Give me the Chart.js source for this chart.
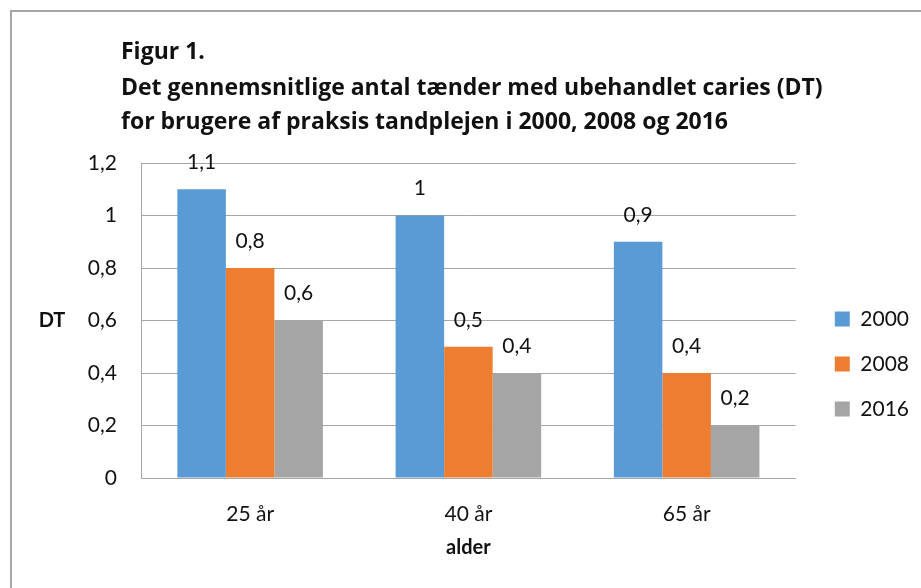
<!DOCTYPE html>
<html>
<head>
<meta charset="utf-8">
<script src="https://cdn.jsdelivr.net/npm/chart.js@4"></script>
<style>
  html, body { margin: 0; padding: 0; background: #fff; overflow: hidden; }
  #wrap { position: relative; width: 921px; height: 588px; }
  #frame { position: absolute; left: 10px; top: 10px; width: 2000px; height: 2000px; border: 2px solid #a6a6a6; box-sizing: border-box; pointer-events: none; }
  canvas { position: absolute; left: 0; top: 0; }
</style>
</head>
<body>
<div id="wrap">
  <canvas id="c" width="921" height="588"></canvas>
  <div id="frame"></div>
</div>
<script>
const figureLabel = "Figur 1.";
const titleLines = [
  "Det gennemsnitlige antal tænder med ubehandlet caries (DT)",
  "for brugere af praksis tandplejen i 2000, 2008 og 2016"
];
const categories = ["25 år", "40 år", "65 år"];
const seriesNames = ["2000", "2008", "2016"];
const values2000 = [1.1, 1.0, 0.9];
const values2008 = [0.8, 0.5, 0.4];
const values2016 = [0.6, 0.4, 0.2];
const yTicks = [0, 0.2, 0.4, 0.6, 0.8, 1, 1.2];
const yAxisTitle = "DT";
const xAxisTitle = "alder";

const colors = ["#5B9BD5", "#ED7D31", "#A5A5A5"];
const FONT = "Lato, 'Open Sans', sans-serif";
const TFONT = "'Open Sans', Lato, sans-serif";
const TXT = "#111111";
const fmt = v => String(Math.round(v * 10) / 10).replace('.', ',');

const titleShift = {
  id: 'titleShift',
  beforeDraw(chart) {
    const x = chart.chartArea.left - 20;
    if (chart.titleBlock) chart.titleBlock.left = x;
    chart.boxes.forEach(b => {
      if (b.options && (b.options.text === figureLabel || b.options.text === titleLines)) b.left = x;
    });
  }
};

const extras = {
  id: 'extras',
  afterDatasetsDraw(chart) {
    const ctx = chart.ctx;
    ctx.save();
    ctx.font = "21px " + FONT;
    ctx.fillStyle = TXT;
    ctx.textAlign = "center";
    ctx.textBaseline = "middle";
    chart.data.datasets.forEach((ds, i) => {
      const meta = chart.getDatasetMeta(i);
      meta.data.forEach((bar, j) => {
        ctx.fillText(fmt(ds.data[j]), bar.x, bar.y - 27);
      });
    });
    ctx.restore();
  },
  afterDraw(chart) {
    const ctx = chart.ctx;
    const a = chart.chartArea;
    ctx.save();
    ctx.font = "bold 20px " + FONT;
    ctx.fillStyle = TXT;
    ctx.textAlign = "center";
    ctx.textBaseline = "middle";
    ctx.fillText(yAxisTitle, a.left - 89, (a.top + a.bottom) / 2);
    ctx.restore();
  }
};

new Chart(document.getElementById('c'), {
  type: 'bar',
  data: {
    labels: categories,
    datasets: [
      { label: seriesNames[0], data: values2000, backgroundColor: colors[0] },
      { label: seriesNames[1], data: values2008, backgroundColor: colors[1] },
      { label: seriesNames[2], data: values2016, backgroundColor: colors[2] }
    ]
  },
  options: {
    responsive: false,
    animation: false,
    devicePixelRatio: 1,
    layout: { padding: { left: 0, right: 2, top: 0, bottom: 0 } },
    datasets: { bar: { categoryPercentage: 0.667, barPercentage: 1.0 } },
    plugins: {
      title: {
        display: true,
        align: 'start',
        text: figureLabel,
        color: TXT,
        font: { family: TFONT, size: 23, weight: 'bold', lineHeight: 1.2 },
        padding: { top: 38.5, bottom: 5 }
      },
      subtitle: {
        display: true,
        align: 'start',
        text: titleLines,
        color: TXT,
        font: { family: TFONT, size: 23, weight: 'bold', lineHeight: 34 / 23 },
        padding: { top: 0, bottom: 24 }
      },
      legend: {
        position: 'right',
        align: 'center',
        title: { display: true, text: ' ', color: 'rgba(0,0,0,0)', font: { size: 1, lineHeight: 1 }, padding: { top: 139, bottom: 0 } },
        labels: {
          boxWidth: 15,
          boxHeight: 15,
          padding: 24,
          color: TXT,
          font: { family: FONT, size: 21 }
        }
      },
      tooltip: { enabled: false }
    },
    scales: {
      x: {
        grid: { display: false, drawTicks: false },
        border: { display: true, color: '#a6a6a6', width: 1 },
        ticks: { color: TXT, font: { family: FONT, size: 21 }, padding: 24 },
        title: { display: true, text: xAxisTitle, color: TXT, font: { family: FONT, size: 20, weight: 'bold' }, padding: { top: 0, bottom: 28 } },
        afterFit(scale) { scale.height = 110; }
      },
      y: {
        min: 0, max: 1.2,
        afterBuildTicks(scale) { scale.ticks = yTicks.map(v => ({ value: v })); },
        grid: { color: '#a6a6a6', drawTicks: false, lineWidth: 1 },
        border: { display: true, color: '#a6a6a6', width: 1 },
        ticks: { color: TXT, font: { family: FONT, size: 21 }, padding: 24, callback: v => fmt(v) },
        afterFit(scale) { scale.width = 141; }
      },
      ySpacer: {
        position: 'right',
        display: true,
        grid: { display: false, drawTicks: false },
        border: { display: false },
        ticks: { display: false },
        afterFit(scale) { scale.width = 15; }
      }
    }
  },
  plugins: [titleShift, extras]
});
</script>
</body>
</html>
